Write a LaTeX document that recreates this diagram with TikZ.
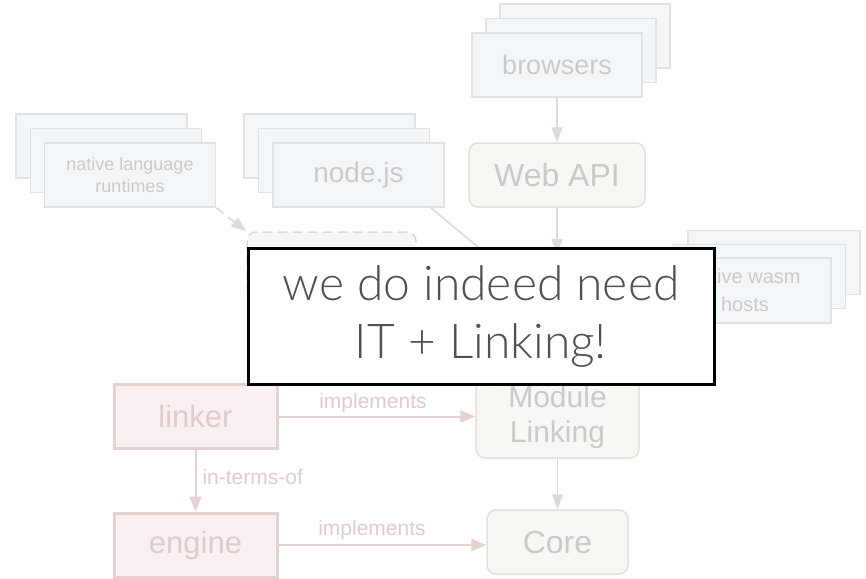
\documentclass[tikz,border=0pt]{standalone}
\usepackage{fontspec}
\setmainfont{Liberation Sans}
\newfontfamily\calloutfont{Lato Light}
\usetikzlibrary{arrows.meta,calc}

\definecolor{stackfill}{HTML}{F4F7FA}
\definecolor{stackline}{HTML}{E2E2E2}
\definecolor{softtext}{HTML}{CACACA}
\definecolor{specfill}{HTML}{F6F8F3}
\definecolor{specline}{HTML}{E0E2DC}
\definecolor{implfill}{HTML}{F9F1F1}
\definecolor{implline}{HTML}{E6D0D0}
\definecolor{impltext}{HTML}{E2CACA}
\definecolor{arrowgray}{HTML}{DADADA}
\definecolor{callouttext}{HTML}{505050}

\tikzset{
  stackbox/.style={draw=stackline, fill=stackfill, line width=1.5pt,
    minimum width=171pt, minimum height=64pt, inner sep=0pt,
    text=softtext, align=center},
  specbox/.style={draw=specline, fill=specfill, line width=1.5pt,
    rounded corners=9pt, inner sep=0pt, text=softtext, align=center},
  implbox/.style={draw=implline, fill=implfill, line width=3pt,
    minimum width=163pt, minimum height=64pt, inner sep=0pt,
    text=impltext, font=\fontsize{31}{36}\selectfont},
  grayarrow/.style={draw=arrowgray, line width=1.6pt,
    -{Triangle[length=15pt,width=11pt]}},
  redarrow/.style={draw=implline, line width=2pt,
    -{Triangle[length=15pt,width=12pt]}},
  longdash/.style={dash pattern=on 9pt off 6pt},
  edgelabel/.style={text=impltext, font=\fontsize{21}{24}\selectfont, inner sep=0pt},
  callout/.style={draw=black, fill=white, line width=3pt,
    minimum width=466pt, minimum height=136pt, inner sep=0pt,
    align=center, text=callouttext,
    font=\calloutfont\fontsize{48}{58}\selectfont}
}

\begin{document}
\begin{tikzpicture}[x=1pt,y=-1pt]
\useasboundingbox (0,0) rectangle (866,578);

% native language runtimes (stack of three, receding up-left)
\node[stackbox] (nlr3) at (101.5,146) {};
\node[stackbox] (nlr2) at (116,160.5) {};
\node[stackbox, font=\fontsize{18}{22}\selectfont] (nlr) at (130,175) {native language\\runtimes};

% node.js
\node[stackbox] (node3) at (329.5,146) {};
\node[stackbox] (node2) at (344,160.5) {};
\node[stackbox, font=\fontsize{28}{30}\selectfont] (node) at (358.5,175) {node.js};

% browsers (stack receding up-right)
\node[stackbox, minimum width=170pt] (br3) at (585,36) {};
\node[stackbox, minimum width=170pt] (br2) at (571,50.5) {};
\node[stackbox, minimum width=170pt, font=\fontsize{27}{30}\selectfont] (br) at (557,65) {browsers};

% native wasm hosts (stack receding up-right)
\node[stackbox, minimum width=172pt, minimum height=64pt] (nwh3) at (774,262.5) {};
\node[stackbox, minimum width=172pt, minimum height=64pt] (nwh2) at (759.5,276.5) {};
\node[stackbox, minimum width=172pt, minimum height=65pt, font=\fontsize{20}{28}\selectfont] (nwh) at (745,290.5) {native wasm\\hosts};

% Web API
\node[specbox, minimum width=176pt, minimum height=64pt,
  font=\fontsize{32}{36}\selectfont] (webapi) at (557,175) {Web API};

% dashed spec box
\node[specbox, longdash, draw=arrowgray, minimum width=169pt, minimum height=64pt] (embed) at (331.5,264) {};

% hidden end points under the callout
\coordinate (midtop) at (557,254);
\coordinate (nodeend) at (520,282);

% Module Linking and Core
\node[specbox, minimum width=163pt, minimum height=82pt,
  font=\fontsize{30}{35}\selectfont] (ml) at (557.5,417) {Module\\Linking};
\node[specbox, minimum width=141pt, minimum height=64pt,
  font=\fontsize{32}{36}\selectfont] (core) at (557.5,542) {Core};

% linker and engine
\node[implbox] (linker) at (195.5,416.5) {linker};
\node[implbox] (engine) at (195.5,545) {engine};

% connectors among the upper layers
\draw[grayarrow] (br.south) -- (webapi.north);
\draw[grayarrow] (webapi.south) -- (midtop);
\draw[arrowgray, line width=1.6pt] (node.south east) ++(-14,0) -- (nodeend);
\draw[grayarrow, longdash] (nlr.south east) -- (embed.north west);

% connectors among the lower layers
\draw[grayarrow] (ml.south) -- (core.north);
\draw[redarrow] (linker.east) -- (linker.east -| ml.west)
  node[edgelabel, pos=0.48, above=3pt] {implements};
\draw[redarrow] (engine.east) -- (engine.east -| core.west)
  node[edgelabel, pos=0.45, above=4pt] {implements};
\draw[redarrow] (linker.south) -- (engine.north)
  node[edgelabel, midway, right=6pt, yshift=4pt] {in-terms-of};

% callout on top
\node[callout] (note) at (481,316) {we do indeed need\\IT + Linking!};
\end{tikzpicture}
\end{document}
